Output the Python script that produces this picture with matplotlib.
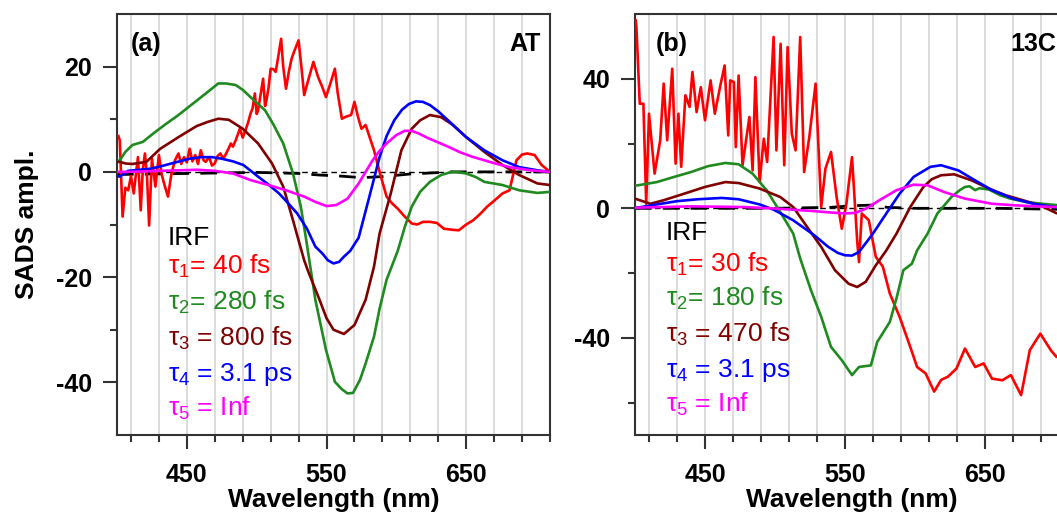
import matplotlib
matplotlib.use('Agg')
from matplotlib import pyplot as plt
import numpy as np

plt.rcParams['font.family'] = ['Liberation Sans', 'DejaVu Sans']
plt.rcParams['mathtext.fontset'] = 'custom'
plt.rcParams['mathtext.rm'] = 'Liberation Sans'
plt.rcParams['mathtext.it'] = 'Liberation Sans'
plt.rcParams['axes.unicode_minus'] = False

RED = '#ff0000'
GREEN = '#1f8a1f'
BROWN = '#800000'
BLUE = '#0000ff'
MAGENTA = '#ff00ff'

# ---------------- panel (a): AT ----------------
a_red_wl = [401, 402, 404, 406, 408, 410, 412, 413.5, 415, 417, 418.5, 420, 421.5, 423, 425, 427.5,
            430, 432, 434, 436.5, 439, 441.5, 444, 446, 448, 450, 452, 454, 456, 458, 460, 462,
            463.5, 466, 468, 470, 472, 474, 476, 477.6, 480, 481.5, 483, 485, 487, 488, 490, 492,
            494, 495.6, 497, 498.7, 500, 501, 503, 504.6, 506, 507, 508.5, 510, 512, 513.6, 515.5,
            517.5, 519, 521, 523, 525, 527, 530, 532, 534, 537, 540.6, 544, 547, 549.6, 553, 556,
            558, 561, 564, 567.6, 570, 572.5, 575, 578, 581, 584, 588, 593, 597, 601, 606, 611,
            615, 619, 624, 629, 634, 640, 644.7, 650, 655, 660, 665, 670, 676, 681, 686, 690,
            693.6, 699, 704, 710]
a_red = [6.8, 6.0, -8.5, -3.0, -3.5, -0.8, -4.1, -0.5, 2.8, -7.3, 0.5, 3.5, -1.0, -10.2, 2.5, -2.8,
         3.2, -0.5, -2.5, -4.7, -0.3, 2.2, 3.5, 1.5, 2.8, 1.8, 4.4, 2.0, 3.2, 1.5, 4.1, 2.2,
         1.9, 2.8, 1.2, 1.6, 3.0, 3.5, 2.5, 3.2, 4.5, 5.4, 4.8, 6.0, 7.5, 8.2, 6.5, 7.9,
         9.5, 11.1, 12.0, 14.9, 11.0, 11.7, 15.0, 17.7, 12.5, 13.6, 16.0, 19.6, 19.5, 19.0, 22.0,
         25.3, 20.0, 15.8, 19.0, 21.5, 23.0, 25.0, 20.0, 14.6, 17.5, 20.9, 18.0, 16.1, 14.2, 17.0, 19.6,
         15.0, 10.1, 10.5, 10.8, 13.3, 10.5, 8.2, 8.9, 6.5, 4.1, 0.0, -4.7, -6.0, -7.0, -8.5, -9.8,
         -10.0, -9.5, -9.5, -9.7, -10.8, -11.0, -11.1, -10.0, -9.2, -8.0, -6.6, -5.5, -4.1, -3.5, 2.2, 3.3,
         3.5, 3.2, 1.3, 0.0]

a_green_wl = [400, 402, 406, 411, 418.5, 426, 434, 444, 454.5, 465, 472.5, 478, 485, 490, 495.6, 501,
              506, 512, 519, 526, 531.6, 535.5, 542, 549.6, 556, 561, 565, 569, 574, 578, 584,
              588, 593, 601, 606, 611, 617, 624, 632, 639.6, 645, 650, 657, 663, 676, 688, 701, 710]
a_green = [2.0, 2.2, 3.8, 5.1, 5.7, 7.3, 8.9, 10.8, 13.0, 15.2, 16.8, 16.8, 16.5, 15.6, 14.2, 12.9,
           11.7, 9.0, 5.4, -0.3, -6.6, -13.0, -24.3, -33.8, -39.9, -41.3, -42.1, -42.0, -39.5, -36.4, -31.3,
           -26.0, -20.5, -15.0, -10.5, -6.6, -3.8, -1.9, -0.6, 0.0, -0.1, -0.3, -1.0, -1.9, -2.5, -3.5, -4.0, -3.8]

a_brown_wl = [400, 402, 406, 411, 421, 431, 444, 457, 465, 472.5, 480, 490, 501, 511, 519, 526, 534,
              537, 545, 550, 555, 562.5, 570, 578, 584, 588, 596, 603.6, 611, 617, 624, 632, 640,
              650, 663, 676, 688, 701, 710]
a_brown = [1.9, 1.9, 1.6, 1.5, 1.9, 4.4, 6.6, 8.7, 9.5, 10.1, 9.9, 8.2, 5.4, 1.6, -2.8, -9.2, -16.8,
           -19.0, -24.3, -27.8, -30.0, -30.8, -29.1, -24.3, -18.0, -11.7, -4.1, 4.1, 8.2, 9.8, 10.8, 10.4, 9.0,
           6.6, 3.8, 1.3, -0.6, -2.2, -2.5]

a_blue_wl = [400, 402, 408, 416, 424, 432, 439, 446, 452, 460, 468, 475, 483, 490.5, 501, 508, 516,
             522, 529, 536, 542, 547, 551, 555, 559, 562.5, 567, 573, 580, 588, 593, 598.5, 604,
             609, 614, 619, 624, 630, 637, 650, 663, 676, 688, 701, 710]
a_blue = [-0.8, -0.9, 0.2, 0.4, 0.6, 1.1, 1.6, 2.1, 2.5, 2.8, 2.8, 2.5, 2.0, 1.3, -0.9, -2.3, -4.1,
          -5.8, -7.9, -10.8, -14.2, -15.5, -16.8, -17.4, -17.1, -16.1, -15.0, -12.5, -5.4, 2.8, 6.8, 9.8, 11.8,
          12.9, 13.4, 13.3, 12.7, 11.5, 9.8, 6.6, 4.1, 2.2, 0.9, 0.3, 0.0]

a_mag_wl = [400, 408, 420, 431, 445, 457, 470, 483, 496, 508.5, 521, 534, 542, 550, 557, 565, 573,
            578, 583, 588, 593, 600, 606, 611, 616, 622, 629, 637, 645, 654, 663, 672, 681, 696, 710]
a_mag = [0.0, 0.0, 0.1, 0.2, 0.3, 0.4, 0.2, -0.3, -1.6, -2.5, -3.5, -4.7, -5.7, -6.5, -6.3, -5.1, -2.2,
         0.0, 2.2, 4.0, 5.4, 7.0, 7.8, 7.8, 7.3, 6.5, 5.7, 4.8, 3.8, 2.9, 2.2, 1.5, 0.9, 0.3, 0.0]

a_irf_wl = [400, 450, 500, 530, 545, 560, 575, 590, 610, 640, 710]
a_irf = [-0.5, -0.3, -0.1, -0.3, -0.6, -0.8, -1.1, -0.9, -0.4, 0.0, 0.0]

a_labels = ['IRF', 'τ$_1$= 40 fs', 'τ$_2$= 280 fs', 'τ$_3$ = 800 fs', 'τ$_4$ = 3.1 ps', 'τ$_5$ = Inf']

# ---------------- panel (b): 13C ----------------
b_red_wl = [400.5, 401, 403.4, 406, 408, 410, 414, 418, 420.5, 423, 426.6, 429, 431, 433, 436, 439,
            441, 444, 447, 450, 454, 457, 461, 464, 466.6, 468, 470.6, 472, 474, 476.8, 481.7, 484,
            486, 489, 492, 494.4, 499, 501, 504, 506.6, 509, 512, 514.7, 518, 520.8, 524.5, 529, 533,
            536, 540, 544, 547.7, 551, 555, 558.7, 560, 562, 567, 572, 577, 582, 589, 596.6, 601.5,
            607.6, 613.7, 618.6, 623.5, 629.6, 635.7, 643, 649, 655, 662.4, 668.5, 675.8, 682, 689.5,
            697, 701, 705, 710]
b_red = [58.0, 56.0, 32.3, 32.3, 1.4, 29.2, 10.7, 21.0, 38.5, 21.0, 43.1, 13.8, 29.2, 12.8, 34.9, 31.3,
         42.1, 29.7, 37.4, 27.2, 39.5, 29.2, 38.0, 44.1, 22.5, 39.5, 39.0, 18.9, 41.0, 13.3, 28.2, 11.7,
         40.5, 8.1, 21.5, 14.3, 52.9, 17.9, 50.8, 13.3, 49.8, 23.0, 17.9, 52.9, 11.2, 22.0, 38.5, 0.4,
         12.2, 17.4, 3.5, -6.3, 1.4, 15.8, -10.0, -16.6, -1.6, -3.7, -15.0, -18.0, -26.3, -33.5, -42.8, -49.0,
         -51.0, -56.6, -53.0, -52.0, -49.5, -43.3, -49.0, -47.9, -52.6, -53.1, -51.5, -57.7, -43.8, -38.7,
         -43.8, -45.9, -44.0, -42.0]

b_green_wl = [400, 402, 415.6, 428, 440, 452, 464.5, 474, 484, 494, 503.7, 513, 518, 525.7, 533, 540,
              547.7, 555, 560, 568.5, 573, 582, 587, 591.7, 597.8, 601.5, 609, 616, 626, 632, 635.7,
              639, 643, 646, 652.8, 661, 668, 680, 691, 701, 710]
b_green = [7.0, 7.1, 8.1, 9.7, 11.2, 13.0, 14.0, 13.6, 10.7, 5.6, -1.1, -7.8, -15.5, -25.3, -33.5, -42.8,
           -46.9, -51.5, -49.0, -48.5, -41.3, -35.1, -27.4, -19.1, -17.1, -13.0, -7.8, -1.6, 3.5, 5.6, 6.6,
           6.8, 5.6, 6.2, 5.8, 4.0, 3.0, 1.9, 1.4, 1.0, 0.8]

b_brown_wl = [400, 402, 411, 420.5, 435, 450, 464.5, 474, 489, 503.7, 513, 523, 533, 542.8, 552.6,
              558.7, 564.8, 572, 579.5, 586.8, 596.6, 606, 612, 618.6, 628, 640.6, 652.8, 665, 677,
              689.5, 701, 710]
b_brown = [3.0, 2.7, 1.4, 2.5, 4.5, 6.6, 8.1, 7.8, 6.1, 3.5, 0.4, -5.8, -11.9, -19.1, -23.3,
           -24.3, -22.7, -17.6, -13.0, -7.8, 0.4, 6.6, 9.0, 10.2, 10.5, 8.6, 6.1, 4.0, 2.5,
           0.9, -1.5, -2.0]

b_blue_wl = [400, 402, 415.6, 430, 445, 462, 474, 489, 499, 513, 528, 538, 545, 550, 555, 560, 570,
             579.5, 589, 599, 611, 618.6, 631, 643, 655, 670, 684.6, 699, 710]
b_blue = [0.2, 0.2, 1.2, 2.2, 2.8, 3.2, 2.8, 1.2, -0.4, -3.7, -8.3, -11.9, -13.8, -14.5, -14.6, -13.5, -7.8,
          -1.6, 4.5, 9.7, 12.8, 13.3, 11.7, 8.6, 5.6, 3.0, 1.4, 0.4, 0.0]

b_mag_wl = [400, 402, 440, 477, 501, 525.7, 540, 550, 557.5, 565, 574.6, 586.8, 599, 609, 621,
            635.7, 655, 672, 699, 710]
b_mag = [0.2, 0.2, 0.6, 0.4, -0.1, -0.8, -1.3, -1.6, -1.4, -0.1, 2.5, 5.6, 7.3, 7.1, 5.0,
         3.0, 1.4, 0.9, 0.4, 0.3]

b_irf_wl = [400, 500, 540, 555, 570, 580, 600, 660, 700, 710]
b_irf = [0.0, 0.0, 0.3, 0.8, 1.0, 0.3, 0.0, 0.0, -0.3, -0.3]

b_labels = ['IRF', 'τ$_1$= 30 fs', 'τ$_2$= 180 fs', 'τ$_3$ = 470 fs', 'τ$_4$ = 3.1 ps', 'τ$_5$ = Inf']

label_colors = ['black', RED, GREEN, BROWN, BLUE, MAGENTA]

W, H = 1057, 516
fig = plt.figure(figsize=(W / 100, H / 100), dpi=100)
ax1 = fig.add_axes([117 / W, 81 / H, 433 / W, 421 / H])
ax2 = fig.add_axes([635 / W, 81 / H, 434 / W, 421 / H])


def style(ax, ylim, ymajor, yminor):
    ax.set_xlim(400, 710)
    ax.set_ylim(*ylim)
    ax.set_xticks([450, 550, 650])
    ax.set_xticks(np.arange(410, 711, 20), minor=True)
    ax.set_yticks(ymajor)
    ax.set_yticks(yminor, minor=True)
    for x in np.arange(410, 711, 20):
        ax.axvline(x, color='#d9d9d9', lw=1.3, zorder=0)
    for s in ax.spines.values():
        s.set_color('#333333')
        s.set_linewidth(1.5)
    ax.tick_params(which='both', direction='out', color='#333333', width=1.5,
                   top=False, right=False)
    ax.tick_params(which='major', length=10, labelsize=18, pad=8)
    ax.tick_params(axis='x', which='major', pad=10)
    ax.tick_params(which='minor', length=5)
    for lab in ax.get_xticklabels() + ax.get_yticklabels():
        lab.set_fontweight('bold')
    ax.set_xlabel('Wavelength (nm)', fontsize=19, fontweight='bold', labelpad=1)


def draw(ax, curves, irf_wl, irf):
    ax.axhline(0, color='black', lw=1.0, ls=(0, (4, 3)), zorder=1)
    ax.plot(irf_wl, irf, color='black', lw=2.0, ls=(0, (6, 4)), zorder=2)
    for wl, v, c in curves:
        ax.plot(wl, v, color=c, lw=1.9, zorder=3)


draw(ax1, [(a_red_wl, a_red, RED), (a_green_wl, a_green, GREEN), (a_brown_wl, a_brown, BROWN),
           (a_blue_wl, a_blue, BLUE), (a_mag_wl, a_mag, MAGENTA)], a_irf_wl, a_irf)
draw(ax2, [(b_red_wl, b_red, RED), (b_green_wl, b_green, GREEN), (b_brown_wl, b_brown, BROWN),
           (b_blue_wl, b_blue, BLUE), (b_mag_wl, b_mag, MAGENTA)], b_irf_wl, b_irf)

style(ax1, (-50, 30), [-40, -20, 0, 20], [-30, -10, 10])
style(ax2, (-70, 60), [-40, 0, 40], [-60, -20, 20])
ax1.set_ylabel('SADS ampl.', fontsize=19, fontweight='bold', labelpad=12)


def ftext(x, y, s, **kw):
    fig.text(x / W, 1 - y / H, s, **kw)


# legend-like text lists (baseline positions in pixels)
a_base = [245, 274, 310, 346, 381, 416]
b_base = [240, 272, 306, 342, 377, 412]
for s, c, y in zip(a_labels, label_colors, a_base):
    ftext(168, y, s, color=c, fontsize=19, va='baseline', ha='left')
for s, c, y in zip(b_labels, label_colors, b_base):
    ftext(666, y, s, color=c, fontsize=19, va='baseline', ha='left')

ftext(131, 51, '(a)', fontsize=18, fontweight='bold', va='baseline')
ftext(541, 51, 'AT', fontsize=18, fontweight='bold', va='baseline', ha='right')
ftext(656, 51, '(b)', fontsize=18, fontweight='bold', va='baseline')
ftext(1010, 51, '13C', fontsize=18, fontweight='bold', va='baseline')

plt.savefig('out.png', dpi=100)
